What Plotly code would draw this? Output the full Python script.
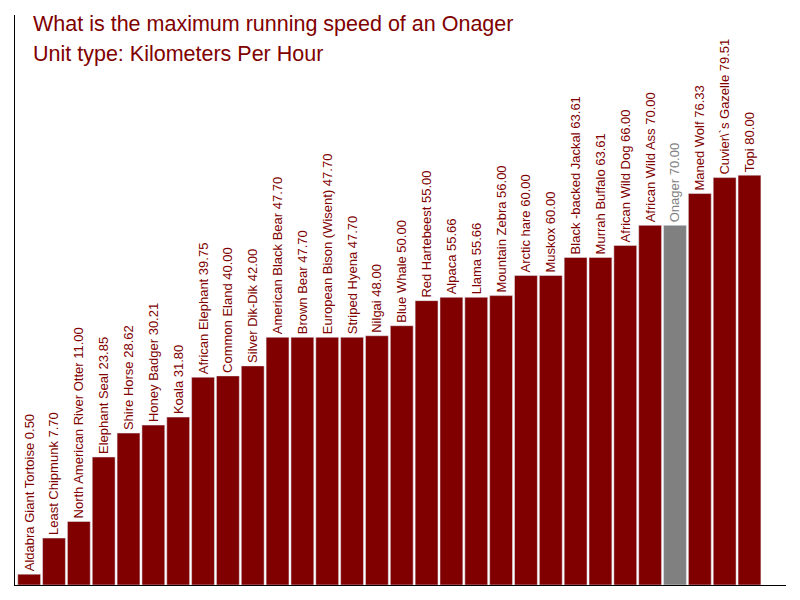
import plotly.graph_objects as go

animals = ["Aldabra Giant Tortoise", "Least Chipmunk", "North American River Otter",
           "Elephant Seal", "Shire Horse", "Honey Badger", "Koala", "African Elephant",
           "Common Eland", "Silver Dik-Dik", "American Black Bear", "Brown Bear",
           "European Bison (Wisent)", "Striped Hyena", "Nilgai", "Blue Whale",
           "Red Hartebeest", "Alpaca", "Llama", "Mountain Zebra", "Arctic hare",
           "Muskox", "Black -backed Jackal", "Murrah Buffalo", "African Wild Dog",
           "African Wild Ass", "Onager", "Maned Wolf", "Cuvier\\`s Gazelle", "Topi"]
speeds = [0.50, 7.70, 11.00, 23.85, 28.62, 30.21, 31.80, 39.75, 40.00, 42.00,
          47.70, 47.70, 47.70, 47.70, 48.00, 50.00, 55.00, 55.66, 55.66, 56.00,
          60.00, 60.00, 63.61, 63.61, 66.00, 70.00, 70.00, 76.33, 79.51, 80.00]
highlight = "Onager"

red = "#800000"
grey = "#808080"
floor = -1.65  # axis starts a bit below zero, bars fill down to it

colors = [grey if a == highlight else red for a in animals]
labels = [f"{a} {v:.2f}" for a, v in zip(animals, speeds)]
xs = list(range(len(animals)))

fig = go.Figure(go.Bar(
    x=xs,
    y=[v - floor for v in speeds],
    base=floor,
    marker_color=colors,
    text=labels,
    textposition="outside",
    textangle=-90,
    textfont=dict(size=13, color=colors, family="Arial, Liberation Sans"),
    cliponaxis=False,
    hoverinfo="skip",
))

# page body adds an 8px offset, margins compensate
fig.update_layout(
    width=800, height=600,
    margin=dict(l=7, r=22, t=7, b=23),
    plot_bgcolor="white", paper_bgcolor="white",
    bargap=0.08,
    showlegend=False,
    font=dict(family="Arial, Liberation Sans"),
    uniformtext=dict(minsize=13, mode="show"),
)
fig.update_xaxes(range=[-0.57, 30.47], showline=True, linecolor="black", linewidth=1,
                 showticklabels=False, ticks="", showgrid=False, zeroline=False)
fig.update_yaxes(range=[floor, 111.9], showline=True, linecolor="black", linewidth=1,
                 showticklabels=False, ticks="", showgrid=False, zeroline=False)

fig.add_annotation(text="What is the maximum running speed of an Onager",
                   xref="paper", yref="paper", x=0.0208, y=0.9847,
                   xanchor="left", yanchor="middle", showarrow=False,
                   font=dict(size=21.5, color=red))
fig.add_annotation(text="Unit type: Kilometers Per Hour",
                   xref="paper", yref="paper", x=0.0208, y=0.9309,
                   xanchor="left", yanchor="middle", showarrow=False,
                   font=dict(size=21.5, color=red))

fig.write_html("out.html")
